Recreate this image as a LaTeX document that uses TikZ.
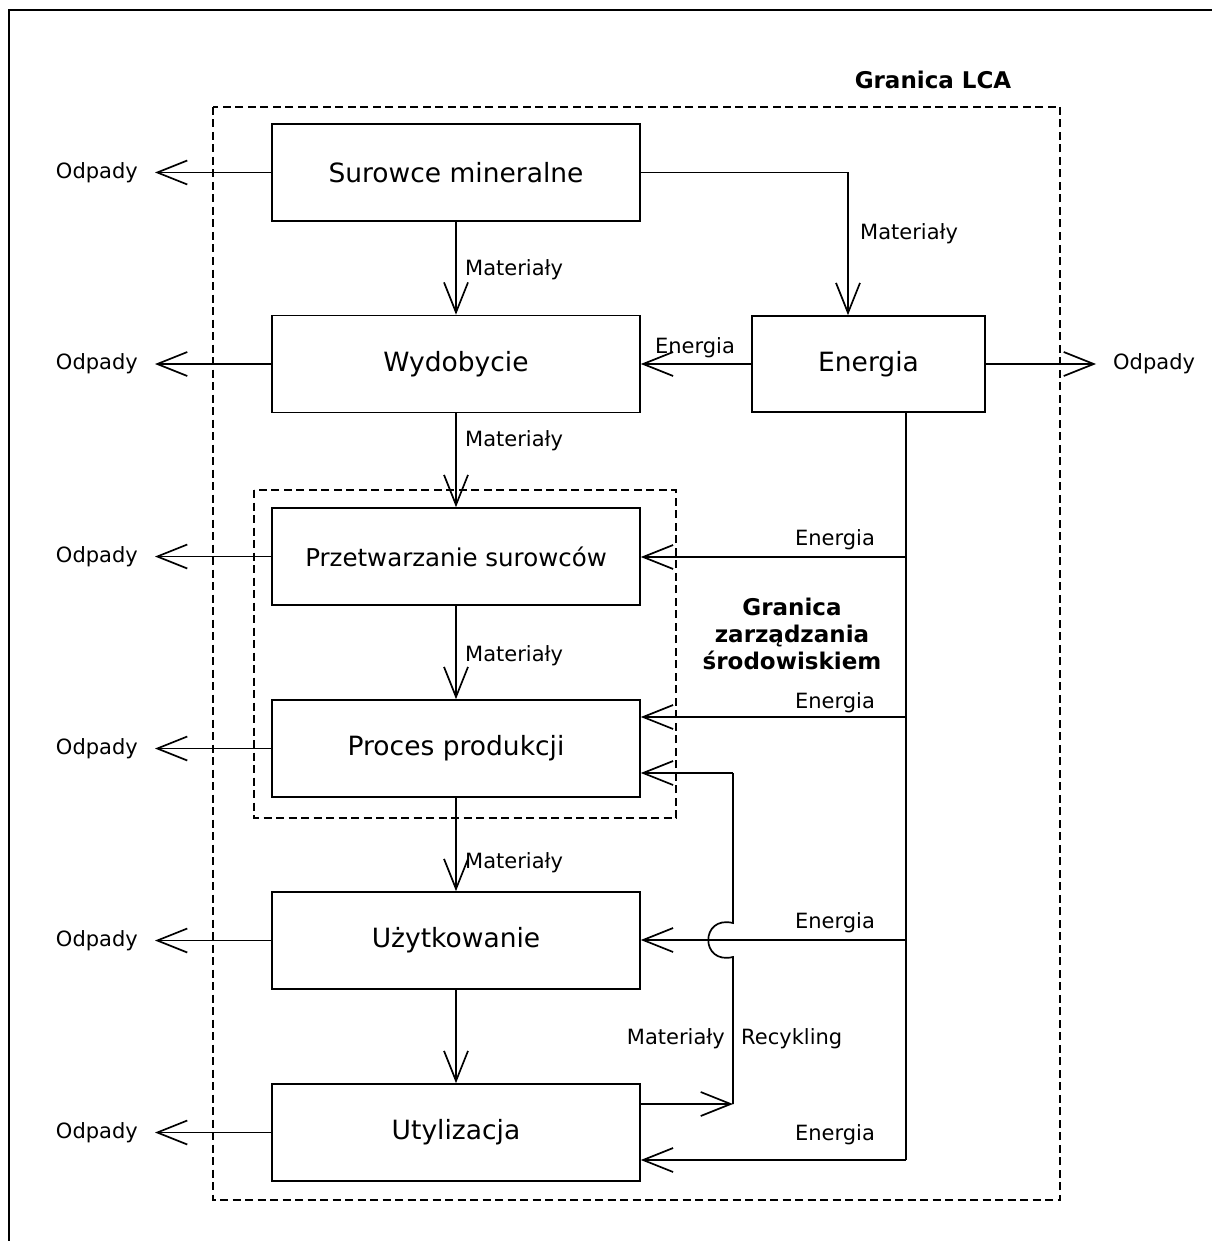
\documentclass[tikz,border=0pt]{standalone}
\usepackage{fontspec}
\setmainfont{DejaVu Sans}
\usetikzlibrary{arrows.meta}
\tikzset{
  box/.style={draw, line width=1.6pt, minimum width=368pt, minimum height=97pt, inner sep=0pt, font=\fontsize{26.5}{31}\selectfont},
  lbl/.style={inner sep=0pt, font=\fontsize{21}{25}\selectfont},
  odp/.style={inner ysep=0pt, inner xsep=17pt, font=\fontsize{21}{25}\selectfont},
  bold/.style={inner sep=0pt, align=center, font=\fontsize{23}{27}\selectfont\bfseries},
  arr/.style={line width=1.7pt, -{Straight Barb[length=30pt,width=24pt,line width=1.7pt]}},
  ln/.style={line width=1.7pt},
  bound/.style={line width=1.8pt, dash pattern=on 8pt off 4.5pt}
}
\begin{document}
\begin{tikzpicture}[x=1pt,y=-1pt]
\useasboundingbox (0,0) rectangle (1211,1241);
% outer frame (only top and left visible)
\draw[line width=2.4pt] (9,1260) -- (9,10) -- (1230,10);
% boundaries
\draw[bound] (213,107) rectangle (1060,1200);
\draw[bound] (254,490) rectangle (676,818);
\node[bold] (glca) at (933,80) {Granica LCA};
\node[bold] (gzar) at (792,634) {Granica\\zarządzania\\środowiskiem};
% boxes
\node[box] (b1) at (456,172.5) {Surowce mineralne};
\node[box] (b2) at (456,364) {Wydobycie};
\node[box, font=\fontsize{24.5}{29}\selectfont] (b3) at (456,556.5) {Przetwarzanie surowców};
\node[box] (b4) at (456,748.5) {Proces produkcji};
\node[box] (b5) at (456,940.5) {Użytkowanie};
\node[box] (b6) at (456,1132.5) {Utylizacja};
\node[box, minimum width=233pt, minimum height=96pt] (en) at (868.5,364) {Energia};
% Odpady
\node[odp, anchor=east] (o1) at (155,172.5) {Odpady};
\node[odp, anchor=east] (o2) at (155,364) {Odpady};
\node[odp, anchor=east] (o3) at (155,556.5) {Odpady};
\node[odp, anchor=east] (o4) at (155,748.5) {Odpady};
\node[odp, anchor=east] (o5) at (155,940.5) {Odpady};
\node[odp, anchor=east] (o6) at (155,1132.5) {Odpady};
\node[odp, anchor=west] (o7) at (1096,364) {Odpady};
\foreach \i in {1,...,6}{\draw[arr] (b\i.west) -- (o\i.east);}
\draw[arr] (en.east) -- (o7.west);
% materials flow
\draw[arr] (b1.south) -- (b2.north);
\draw[arr] (b2.south) -- (b3.north);
\draw[arr] (b3.south) -- (b4.north);
\draw[arr] (b4.south) -- (b5.north);
\draw[arr] (b5.south) -- (b6.north);
\node[lbl, anchor=west] (m1) at (465,270) {Materiały};
\node[lbl, anchor=west] (m2) at (465,441) {Materiały};
\node[lbl, anchor=west] (m3) at (465,656) {Materiały};
\node[lbl, anchor=west] (m4) at (465,863) {Materiały};
% Surowce -> Energia
\coordinate (c1) at (848,172.5);
\draw[arr] (b1.east) -- (c1) -- (en.north -| c1);
\node[lbl, anchor=west] (m5) at (860,234) {Materiały};
% Energia -> Wydobycie
\draw[arr] (en.west) -- (b2.east);
\node[lbl] (e0) at (695,348) {Energia};
% energy bus
\coordinate (j1) at (906,557);
\coordinate (j2) at (906,717);
\coordinate (j3) at (906,940);
\coordinate (j4) at (906,1160);
\draw[ln] (en.south -| j1) -- (j4);
\draw[arr] (j1) -- (b3.east |- j1);
\draw[arr] (j2) -- (b4.east |- j2);
\draw[arr] (j3) -- (b5.east |- j3);
\draw[arr] (j4) -- (b6.east |- j4);
\node[lbl] (e1) at (835,540) {Energia};
\node[lbl] (e2) at (835,703) {Energia};
\node[lbl] (e3) at (835,923) {Energia};
\node[lbl] (e4) at (835,1135) {Energia};
% recycling loop
\coordinate (r1) at (733,1104);
\coordinate (r2) at (733,773);
\coordinate (h1) at (733,957);
\coordinate (h2) at (733,923);
\draw[arr] (b6.east |- r1) -- (r1);
\draw[ln] (r1) -- (h1) .. controls (700,965) and (700,915) .. (h2) -- (r2);
\draw[arr] (r2) -- (b4.east |- r2);
\node[lbl, anchor=east] (m6) at (725,1039) {Materiały};
\node[lbl, anchor=west] (rc) at (741,1039) {Recykling};
\end{tikzpicture}
\end{document}
